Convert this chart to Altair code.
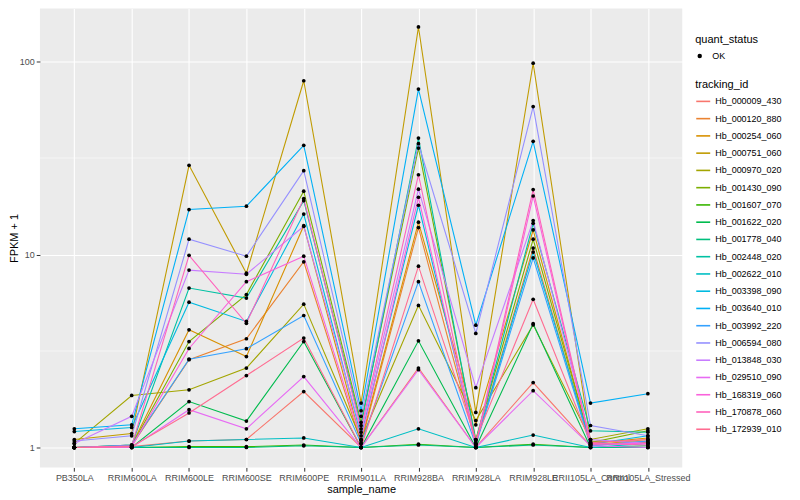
import altair as alt
import pandas as pd

samples = ["PB350LA", "RRIM600LA", "RRIM600LE", "RRIM600SE", "RRIM600PE", "RRIM901LA",
           "RRIM928BA", "RRIM928LA", "RRIM928LE", "RRII105LA_Control", "RRII105LA_Stressed"]

ids = ["Hb_000009_430", "Hb_000120_880", "Hb_000254_060", "Hb_000751_060", "Hb_000970_020",
       "Hb_001430_090", "Hb_001607_070", "Hb_001622_020", "Hb_001778_040", "Hb_002448_020",
       "Hb_002622_010", "Hb_003398_090", "Hb_003640_010", "Hb_003992_220", "Hb_006594_080",
       "Hb_013848_030", "Hb_029510_090", "Hb_168319_060", "Hb_170878_060", "Hb_172939_010"]

colors = ["#F8766D", "#EA8331", "#D89000", "#C09B00", "#A3A500", "#7CAE00", "#39B600",
          "#00BB4E", "#00BF7D", "#00C1A3", "#00BFC4", "#00BAE0", "#00B0F6", "#35A2FF",
          "#9590FF", "#C77CFF", "#E76BF3", "#FA62DB", "#FF62BC", "#FF6C91"]

v_000009_430 = [1.0, 1.01, 1.08, 1.10, 1.95, 1.0, 2.58, 1.0, 2.17, 1.02, 1.08]
v_000120_880 = [1.0, 1.02, 2.85, 3.66, 9.17, 1.05, 13.8, 1.05, 10.8, 1.03, 1.1]
v_000254_060 = [1.0, 1.03, 4.07, 2.96, 14.1, 1.08, 14.7, 1.31, 13.4, 1.05, 1.12]
v_000751_060 = [1.1, 1.18, 29.0, 8.0, 79.5, 1.7, 151.0, 1.52, 98.0, 1.08, 1.06]
v_000970_020 = [1.05, 1.86, 1.99, 2.58, 5.53, 1.1, 5.45, 1.38, 4.32, 1.1, 1.25]
v_001430_090 = [1.0, 1.02, 3.54, 6.2, 21.3, 1.35, 35.6, 1.1, 12.0, 1.06, 1.22]
v_001607_070 = [1.0, 1.0, 1.01, 1.01, 1.03, 1.0, 1.04, 1.0, 1.04, 1.0, 1.0]
v_001622_020 = [1.0, 1.0, 1.73, 1.37, 3.54, 1.0, 3.57, 1.0, 4.38, 1.0, 1.02]
v_001778_040 = [1.0, 1.0, 1.0, 1.0, 1.02, 1.0, 1.03, 1.0, 1.03, 1.0, 1.0]
v_002448_020 = [1.0, 1.03, 6.7, 5.95, 19.0, 1.3, 40.1, 1.08, 14.5, 1.22, 1.2]
v_002622_010 = [1.0, 1.0, 1.08, 1.10, 1.12, 1.0, 1.25, 1.0, 1.16, 1.0, 1.05]
v_003398_090 = [1.21, 1.27, 5.66, 4.5, 16.2, 1.15, 18.0, 1.05, 10.3, 1.04, 1.15]
v_003640_010 = [1.25, 1.31, 17.1, 17.8, 36.8, 1.55, 72.0, 4.3, 38.6, 1.70, 1.90]
v_003992_220 = [1.0, 1.03, 2.87, 3.25, 4.83, 1.05, 7.23, 1.03, 9.6, 1.02, 1.08]
v_006594_080 = [1.08, 1.15, 12.0, 9.8, 27.2, 1.45, 37.5, 3.9, 58.4, 1.30, 1.15]
v_013848_030 = [1.05, 1.45, 8.3, 7.9, 14.0, 1.2, 21.8, 2.04, 15.0, 1.1, 1.05]
v_029510_090 = [1.0, 1.0, 1.57, 1.25, 2.33, 1.0, 2.53, 1.0, 1.97, 1.02, 1.0]
v_168319_060 = [1.0, 1.01, 3.26, 7.23, 9.8, 1.1, 19.8, 1.02, 20.1, 1.04, 1.05]
v_170878_060 = [1.0, 1.02, 9.9, 4.4, 19.5, 1.25, 25.9, 1.04, 21.7, 1.05, 1.03]
v_172939_010 = [1.0, 1.01, 1.51, 2.36, 3.69, 1.0, 8.7, 1.1, 5.86, 1.06, 1.1]

series = [v_000009_430, v_000120_880, v_000254_060, v_000751_060, v_000970_020,
          v_001430_090, v_001607_070, v_001622_020, v_001778_040, v_002448_020,
          v_002622_010, v_003398_090, v_003640_010, v_003992_220, v_006594_080,
          v_013848_030, v_029510_090, v_168319_060, v_170878_060, v_172939_010]

y_ticks = [1, 10, 100]
minor_breaks = [3.1623, 31.623]

rows = []
for tid, vals in zip(ids, series):
    for s, v in zip(samples, vals):
        rows.append({"sample_name": s, "tracking_id": tid, "fpkm1": v, "quant_status": "OK"})
df = pd.DataFrame(rows)
minor_df = pd.DataFrame({"y": minor_breaks})

FONT = "Liberation Sans"

y_scale = alt.Scale(type="log", domain=[0.788, 188], nice=False)
y_axis = alt.Axis(title="FPKM + 1", values=y_ticks, format="d", labelPadding=2,
                  titleX=-25, titleY=230, titleAngle=270, titleAlign="center",
                  titleBaseline="middle")
x_axis = alt.Axis(title="sample_name", labelAngle=0, labelOverlap=False,
                  labelLimit=300, titlePadding=1, labelPadding=2)
x_scale = alt.Scale(type="point", padding=0.6)

minor = alt.Chart(minor_df).mark_rule(color="white", strokeWidth=0.55).encode(
    y=alt.Y("y:Q", scale=y_scale, axis=y_axis)
)

lines = alt.Chart(df).mark_line(strokeWidth=1.1).encode(
    x=alt.X("sample_name:N", sort=samples, scale=x_scale, axis=x_axis),
    y=alt.Y("fpkm1:Q", scale=y_scale, axis=y_axis),
    color=alt.Color("tracking_id:N", scale=alt.Scale(domain=ids, range=colors),
                    legend=alt.Legend(title="tracking_id", orient="none",
                                      legendX=657, legendY=71,
                                      symbolType="stroke", symbolSize=196,
                                      symbolStrokeWidth=1.6, rowPadding=4.3,
                                      labelFontSize=9, titleFontSize=11,
                                      titleFontWeight="normal", labelOffset=4,
                                      titlePadding=3)),
    detail="tracking_id:N",
)

points = alt.Chart(df).mark_point(filled=True, size=14, opacity=1, color="black").encode(
    x=alt.X("sample_name:N", sort=samples, scale=x_scale, axis=x_axis),
    y=alt.Y("fpkm1:Q", scale=y_scale, axis=y_axis),
    shape=alt.Shape("quant_status:N", scale=alt.Scale(range=["circle"]),
                    legend=alt.Legend(title="quant_status", orient="none",
                                      legendX=657, legendY=25,
                                      symbolSize=20, symbolFillColor="black",
                                      symbolStrokeColor="black",
                                      labelFontSize=9, titleFontSize=11,
                                      titleFontWeight="normal", labelOffset=8,
                                      titlePadding=7)),
)

chart = alt.layer(minor, lines, points).properties(
    width=644, height=460,
    autosize=alt.AutoSizeParams(type="none"),
    padding={"left": 32, "top": 0, "right": 110, "bottom": 30},
).configure(
    background="white", font=FONT
).configure_view(
    fill="#EBEBEB", strokeWidth=0
).configure_axis(
    grid=True, gridColor="white", gridWidth=1.1, domain=False,
    tickColor="#333333", tickSize=3.7, labelColor="#4D4D4D", labelFontSize=9,
    labelFont=FONT, titleFont=FONT, titleFontSize=11, titleFontWeight="normal",
    titleColor="black"
).configure_legend(
    labelFont=FONT, titleFont=FONT, labelColor="black", titleColor="black"
)

chart.save("out.html", embed_options={"renderer": "svg", "actions": False})
